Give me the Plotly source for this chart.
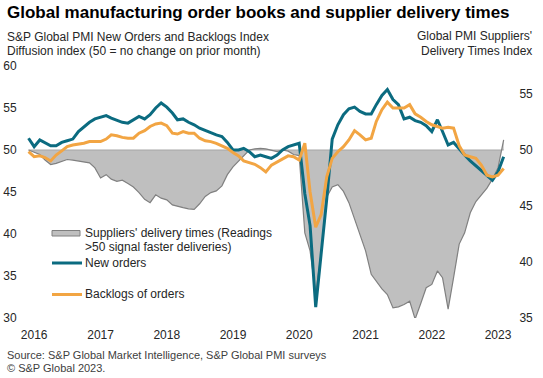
import pandas as pd
import plotly.graph_objects as go

# Monthly observations, Dec 2015 .. Feb 2023
months = pd.date_range("2015-12-01", "2023-02-01", freq="MS")

new_orders = [
    51.4, 50.4, 51.2, 50.9, 50.5, 50.5, 50.9, 51.1, 51.3, 52.2, 52.8, 53.3, 53.7,
    53.9, 54.1, 53.8, 53.5, 53.3, 53.2, 53.6, 54.0, 53.7, 54.2, 55.0, 55.6,
    55.1, 54.4, 53.6, 53.7, 53.3, 53.0, 52.6, 52.3, 52.0, 51.8, 51.6, 50.9,
    50.0, 50.0, 50.2, 49.8, 49.2, 49.4, 49.2, 49.0, 49.4, 50.0, 50.4, 50.6,
    50.8, 44.8, 41.0, 31.3, 37.6, 44.2, 51.3, 53.0, 54.2, 54.9, 55.1, 54.6,
    54.3, 54.3, 55.4, 56.5, 57.2, 56.0, 55.4, 53.7, 53.9, 53.5, 53.3, 52.9,
    52.2, 53.6, 52.2, 50.6, 50.9, 50.1, 49.4, 48.7, 48.1, 47.5, 47.0, 46.4,
    47.4, 49.2,
]

backlogs = [
    49.8, 49.2, 49.3, 49.1, 48.7, 49.4, 49.9, 50.4, 50.6, 50.7, 50.8, 51.0, 51.0,
    51.0, 51.3, 51.8, 51.7, 51.5, 51.4, 51.4, 52.0, 52.3, 52.8, 53.1, 53.2,
    52.9, 52.0, 51.9, 52.2, 52.0, 52.0, 51.4, 51.1, 51.0, 50.8, 50.5, 50.2,
    49.7, 49.3, 48.7, 48.5, 48.3, 47.9, 47.4, 48.2, 48.6, 49.0, 49.3, 49.2,
    48.8, 50.8, 45.0, 40.8, 42.3, 46.8, 49.0, 49.8, 50.4, 51.2, 52.3, 51.8,
    51.2, 51.4, 53.4, 54.8, 55.7, 55.0, 55.0, 55.0, 55.4, 54.3, 53.9, 53.4,
    53.0, 52.8, 52.6, 52.7, 52.6, 50.5, 49.4, 49.2, 49.0, 48.2, 47.0, 46.8,
    47.0, 47.8,
]

delivery_times = [
    50.0, 49.8, 49.6, 49.1, 48.7, 48.8, 48.95, 49.15, 49.1, 49.0, 48.95, 48.85, 48.4,
    47.5, 47.8, 47.4, 47.2, 47.3, 47.0, 46.7, 46.2, 45.6, 45.3, 46.0, 45.7,
    45.55, 45.1, 44.95, 44.85, 44.75, 44.7, 45.2, 45.85, 46.2, 46.35, 46.8, 47.8,
    48.5, 49.0, 49.5, 50.0, 50.1, 50.15, 50.1, 49.95, 49.85, 50.0, 49.9, 49.6,
    49.5, 42.6, 41.0, 37.2, 40.8, 45.8, 46.7, 46.9, 46.3, 45.3, 43.8, 42.4,
    41.0, 38.9, 38.3, 37.6, 37.1, 35.9, 36.0, 36.2, 36.5, 34.9, 36.3, 37.7,
    38.0, 39.2, 38.6, 35.8, 38.6, 41.6, 42.6, 44.4, 45.4, 46.0, 46.6, 47.4,
    48.4, 50.9,
]

year_labels = ["2016", "2017", "2018", "2019", "2020", "2021", "2022", "2023"]
neutral_level = [50.0] * len(months)

FONT = "Liberation Sans, Arial, sans-serif"
TEXT = "#262626"
TEAL = "#0b6b80"
ORANGE = "#f2a543"
GREY_FILL = "#bfbfbf"
GREY_LINE = "#808080"

W, H = 543, 378
L, R, T, B = 24, 35, 66, 60
PW, PH = W - L - R, H - T - B


def px_x(x):
    return (x - L) / PW


def px_y(y):
    return (H - B - y) / PH


fig = go.Figure()

# Suppliers' delivery times area (right axis, drawn underneath)
fig.add_trace(go.Scatter(
    x=months, y=neutral_level, yaxis="y", mode="lines",
    line=dict(color="#a6a6a6", width=1), hoverinfo="skip", showlegend=False,
))
fig.add_trace(go.Scatter(
    x=months, y=delivery_times, yaxis="y", mode="lines", fill="tonexty",
    fillcolor=GREY_FILL, line=dict(color=GREY_LINE, width=1.2),
    name="Suppliers' delivery times", showlegend=False,
))
# Orders lines (left axis, overlay on top)
fig.add_trace(go.Scatter(
    x=months, y=new_orders, yaxis="y2", mode="lines",
    line=dict(color=TEAL, width=3), name="New orders", showlegend=False,
))
fig.add_trace(go.Scatter(
    x=months, y=backlogs, yaxis="y2", mode="lines",
    line=dict(color=ORANGE, width=3), name="Backlogs of orders", showlegend=False,
))

tick_dates = [f"{y}-01-01" for y in year_labels]

fig.update_layout(
    width=W, height=H,
    margin=dict(l=L, r=R, t=T, b=B, autoexpand=False),
    paper_bgcolor="white", plot_bgcolor="white",
    font=dict(family=FONT, size=12, color=TEXT),
    showlegend=False,
    xaxis=dict(
        type="date", range=["2015-11-06", "2023-02-25"],
        tickvals=tick_dates, ticktext=year_labels, automargin=False,
        showgrid=False, zeroline=False, showline=False,
        ticks="outside", ticklen=6, tickcolor="rgba(0,0,0,0)",
        tickfont=dict(size=12, color=TEXT, family=FONT),
    ),
    yaxis=dict(
        side="right", range=[35, 57.5], tickvals=[35, 40, 45, 50, 55],
        showgrid=False, zeroline=False, showline=False, automargin=False,
        ticks="outside", ticklen=8, tickcolor="rgba(0,0,0,0)",
        tickfont=dict(size=12, color=TEXT, family=FONT),
    ),
    yaxis2=dict(
        side="left", overlaying="y", range=[30, 60],
        tickvals=[30, 35, 40, 45, 50, 55, 60], automargin=False,
        showgrid=False, zeroline=False, showline=False,
        ticks="outside", ticklen=4, tickcolor="rgba(0,0,0,0)",
        tickfont=dict(size=12, color=TEXT, family=FONT),
    ),
)

annotations = [
    dict(text="<b>Global manufacturing order books and supplier delivery times</b>",
         x=px_x(5), y=px_y(12), xanchor="left", yanchor="middle",
         font=dict(size=17, color="#000000")),
    dict(text="S&P Global PMI New Orders and Backlogs Index",
         x=px_x(5), y=px_y(37), xanchor="left", yanchor="middle"),
    dict(text="Diffusion index (50 = no change on prior month)",
         x=px_x(5), y=px_y(51), xanchor="left", yanchor="middle"),
    dict(text="Global PMI Suppliers'",
         x=px_x(534), y=px_y(36), xanchor="right", yanchor="middle"),
    dict(text="Delivery Times Index",
         x=px_x(534), y=px_y(51), xanchor="right", yanchor="middle"),
    dict(text="Suppliers' delivery times (Readings",
         x=px_x(83), y=px_y(233), xanchor="left", yanchor="middle"),
    dict(text=">50 signal faster deliveries)",
         x=px_x(83), y=px_y(247), xanchor="left", yanchor="middle"),
    dict(text="New orders",
         x=px_x(83), y=px_y(263), xanchor="left", yanchor="middle"),
    dict(text="Backlogs of orders",
         x=px_x(83), y=px_y(294), xanchor="left", yanchor="middle"),
    dict(text="Source: S&P Global Market Intelligence, S&P Global PMI surveys",
         x=px_x(5), y=px_y(355), xanchor="left", yanchor="middle",
         font=dict(size=11, color="#404040")),
    dict(text="© S&P Global 2023.",
         x=px_x(5), y=px_y(368), xanchor="left", yanchor="middle",
         font=dict(size=11, color="#404040")),
]
for a in annotations:
    a.update(xref="paper", yref="paper", showarrow=False)
    a.setdefault("font", dict(size=12, color=TEXT))
    a["font"].setdefault("family", FONT)
fig.update_layout(annotations=annotations)

shapes = [
    dict(type="rect", x0=px_x(52), x1=px_x(80), y0=px_y(230.5), y1=px_y(236),
         fillcolor=GREY_FILL, line=dict(color=GREY_LINE, width=1)),
    dict(type="line", x0=px_x(52), x1=px_x(82), y0=px_y(263), y1=px_y(263),
         line=dict(color=TEAL, width=3)),
    dict(type="line", x0=px_x(52), x1=px_x(82), y0=px_y(294.5), y1=px_y(294.5),
         line=dict(color=ORANGE, width=3)),
]
for s in shapes:
    s.update(xref="paper", yref="paper")
fig.update_layout(shapes=shapes)

fig.write_html(
    "out.html",
    config={"displayModeBar": False, "responsive": False},
    post_script="document.body.style.margin='0';document.body.style.padding='0';"
                "document.documentElement.style.overflow='hidden';",
)
